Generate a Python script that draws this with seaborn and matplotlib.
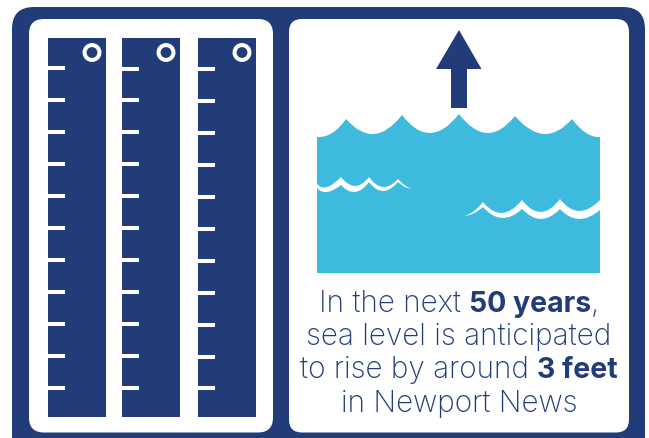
import numpy as np
import pandas as pd
import seaborn as sns
import matplotlib.pyplot as plt
from matplotlib.patches import FancyBboxPatch, PathPatch, Polygon
from matplotlib.path import Path

NAVY = '#223c7a'
BLUE = '#3dbadd'

# gauges, all in pixels of the 649x438 picture
gauge_left = [48, 122, 198]
gauge_right = [106, 180, 256]
gauge_top = 38
gauge_bottom = 417
ring_x = [92, 166, 242]
ring_y = [52.5, 52.5, 52.5]
ticks_1 = [68, 100, 132, 164, 196, 228, 260, 292, 324, 356, 388]
ticks_2 = [69, 100, 132, 164, 196, 228, 260, 292, 324, 356, 388]
ticks_3 = [69, 101, 133, 165, 197, 229, 261, 293, 325, 357, 388]

# water surface: crest, trough, crest ...
surf_x = [346, 374, 402, 430, 459, 487, 515, 544, 572]
surf_y = [119, 134, 115, 133, 114, 133, 116, 134, 119]

# white wavelets, top and bottom edge
small_x = [317, 327, 341, 355, 369, 383, 398, 412]
small_top_y = [184, 187, 177, 186, 177, 187, 179, 189]
small_bot_y = [188, 192, 185, 192, 182, 191, 182, 189]
big_x = [464, 483, 502, 522, 541, 560, 579, 600]
big_top_y = [216, 202, 213, 200, 212, 199, 211, 200]
big_bot_y = [216, 207, 218, 209, 219, 209, 219, 210]

lines = [
    [('In the next ', 'light'), ('50 years', 'bold'), (',', 'light')],
    [('sea level is anticipated', 'light')],
    [('to rise by around ', 'light'), ('3 feet', 'bold')],
    [('in Newport News', 'light')],
]
baselines = [312, 345, 378, 412]
sizes = {'light': 21.4, 'bold': 20.5}


def scoops(xs, ys, start=0, sag=1):
    # runs of end, low point, end joined by one curve; a leftover point is a wave tip
    verts = [(xs[0], ys[0])]
    i = 0
    if start == 1:
        verts += [((xs[0] + xs[1]) / 2, max(ys[0], ys[1]) - sag), (xs[1], ys[1])]
        i = 1
    while i + 2 < len(xs):
        cx = 2 * xs[i + 1] - (xs[i] + xs[i + 2]) / 2
        cy = 2 * ys[i + 1] - (ys[i] + ys[i + 2]) / 2
        verts += [(cx, cy), (xs[i + 2], ys[i + 2])]
        i += 2
    if i + 1 < len(xs):
        verts += [((xs[i] + xs[i + 1]) / 2, max(ys[i], ys[i + 1]) - sag), (xs[i + 1], ys[i + 1])]
    return verts


sns.set_theme(style='white')
plt.rcParams['font.family'] = ['Inter', 'DejaVu Sans']

fig, ax = plt.subplots(figsize=(6.49, 4.38), dpi=100)
ax.set_position([0, 0, 1, 1])

# frame and the two white cards
ax.add_patch(FancyBboxPatch((12, 7), 633, 460, boxstyle='round,pad=0,rounding_size=22', fc=NAVY, ec='none', zorder=0))
ax.add_patch(FancyBboxPatch((29, 19), 244, 413.5, boxstyle='round,pad=0,rounding_size=15', fc='white', ec='none', zorder=1))
ax.add_patch(FancyBboxPatch((289, 19), 340, 413.5, boxstyle='round,pad=0,rounding_size=13', fc='white', ec='none', zorder=1))

# gauges
gauges = pd.DataFrame({
    'x': [(l + r) / 2 for l, r in zip(gauge_left, gauge_right)],
    'height': [gauge_bottom - gauge_top] * 3,
})
sns.barplot(data=gauges, x='x', y='height', native_scale=True, width=58 / 74, bottom=gauge_top,
            color=NAVY, saturation=1, linewidth=0, edgecolor='none', ax=ax, zorder=2)
for left, ticks in zip(gauge_left, [ticks_1, ticks_2, ticks_3]):
    ax.hlines(ticks, left, left + 17, color='white', lw=2.9, zorder=3)
sns.scatterplot(x=ring_x, y=ring_y, s=115, facecolor='none', edgecolor='white', linewidth=2.9, ax=ax, zorder=3)

# arrow
ax.add_patch(Polygon([(459, 30), (481.5, 69), (467, 69), (467, 108), (451, 108), (451, 69), (436, 69)],
                     fc=NAVY, ec='none', zorder=2))

# water
surface = scoops(surf_x, surf_y)
verts = [(317, 137), (333, 138)] + surface + [(586, 138), (600, 137), (600, 273), (317, 273), (317, 137)]
codes = [Path.MOVETO, Path.CURVE3] + [Path.CURVE3] * len(surface) + [Path.CURVE3, Path.CURVE3, Path.LINETO, Path.LINETO, Path.CLOSEPOLY]
ax.add_patch(PathPatch(Path(verts, codes), fc=BLUE, ec='none', zorder=2))

# white wavelets
for xs, top_y, bot_y, start in [(small_x, small_top_y, small_bot_y, 0), (big_x, big_top_y, big_bot_y, 1)]:
    top = scoops(xs, top_y, start, sag=2)
    bot = scoops(xs, bot_y, start, sag=0.5)[::-1]
    verts = top + bot + [top[0]]
    codes = [Path.MOVETO] + [Path.CURVE3] * (len(top) - 1) + [Path.LINETO] + [Path.CURVE3] * (len(bot) - 1) + [Path.CLOSEPOLY]
    ax.add_patch(PathPatch(Path(verts, codes), fc='white', ec='none', zorder=3))

ax.set_xlim(0, 649)
ax.set_ylim(438, 0)
ax.axis('off')

# caption, bold runs measured so each line stays centred
fig.canvas.draw()
rend = fig.canvas.get_renderer()
for line, base in zip(lines, baselines):
    parts = [ax.text(0, base, s, weight=w, fontsize=sizes[w], color=NAVY, va='baseline', ha='left', zorder=4) for s, w in line]
    widths = []
    for s, w in line:
        # keep trailing spaces in the measure
        probe = ax.text(0, 0, s.replace(' ', '\u00a0'), weight=w, fontsize=sizes[w])
        widths.append(probe.get_window_extent(rend).width)
        probe.remove()
    x = 459 - sum(widths) / 2
    for p, width in zip(parts, widths):
        p.set_x(x)
        x += width

fig.savefig('out.png', dpi=100, facecolor='white')
